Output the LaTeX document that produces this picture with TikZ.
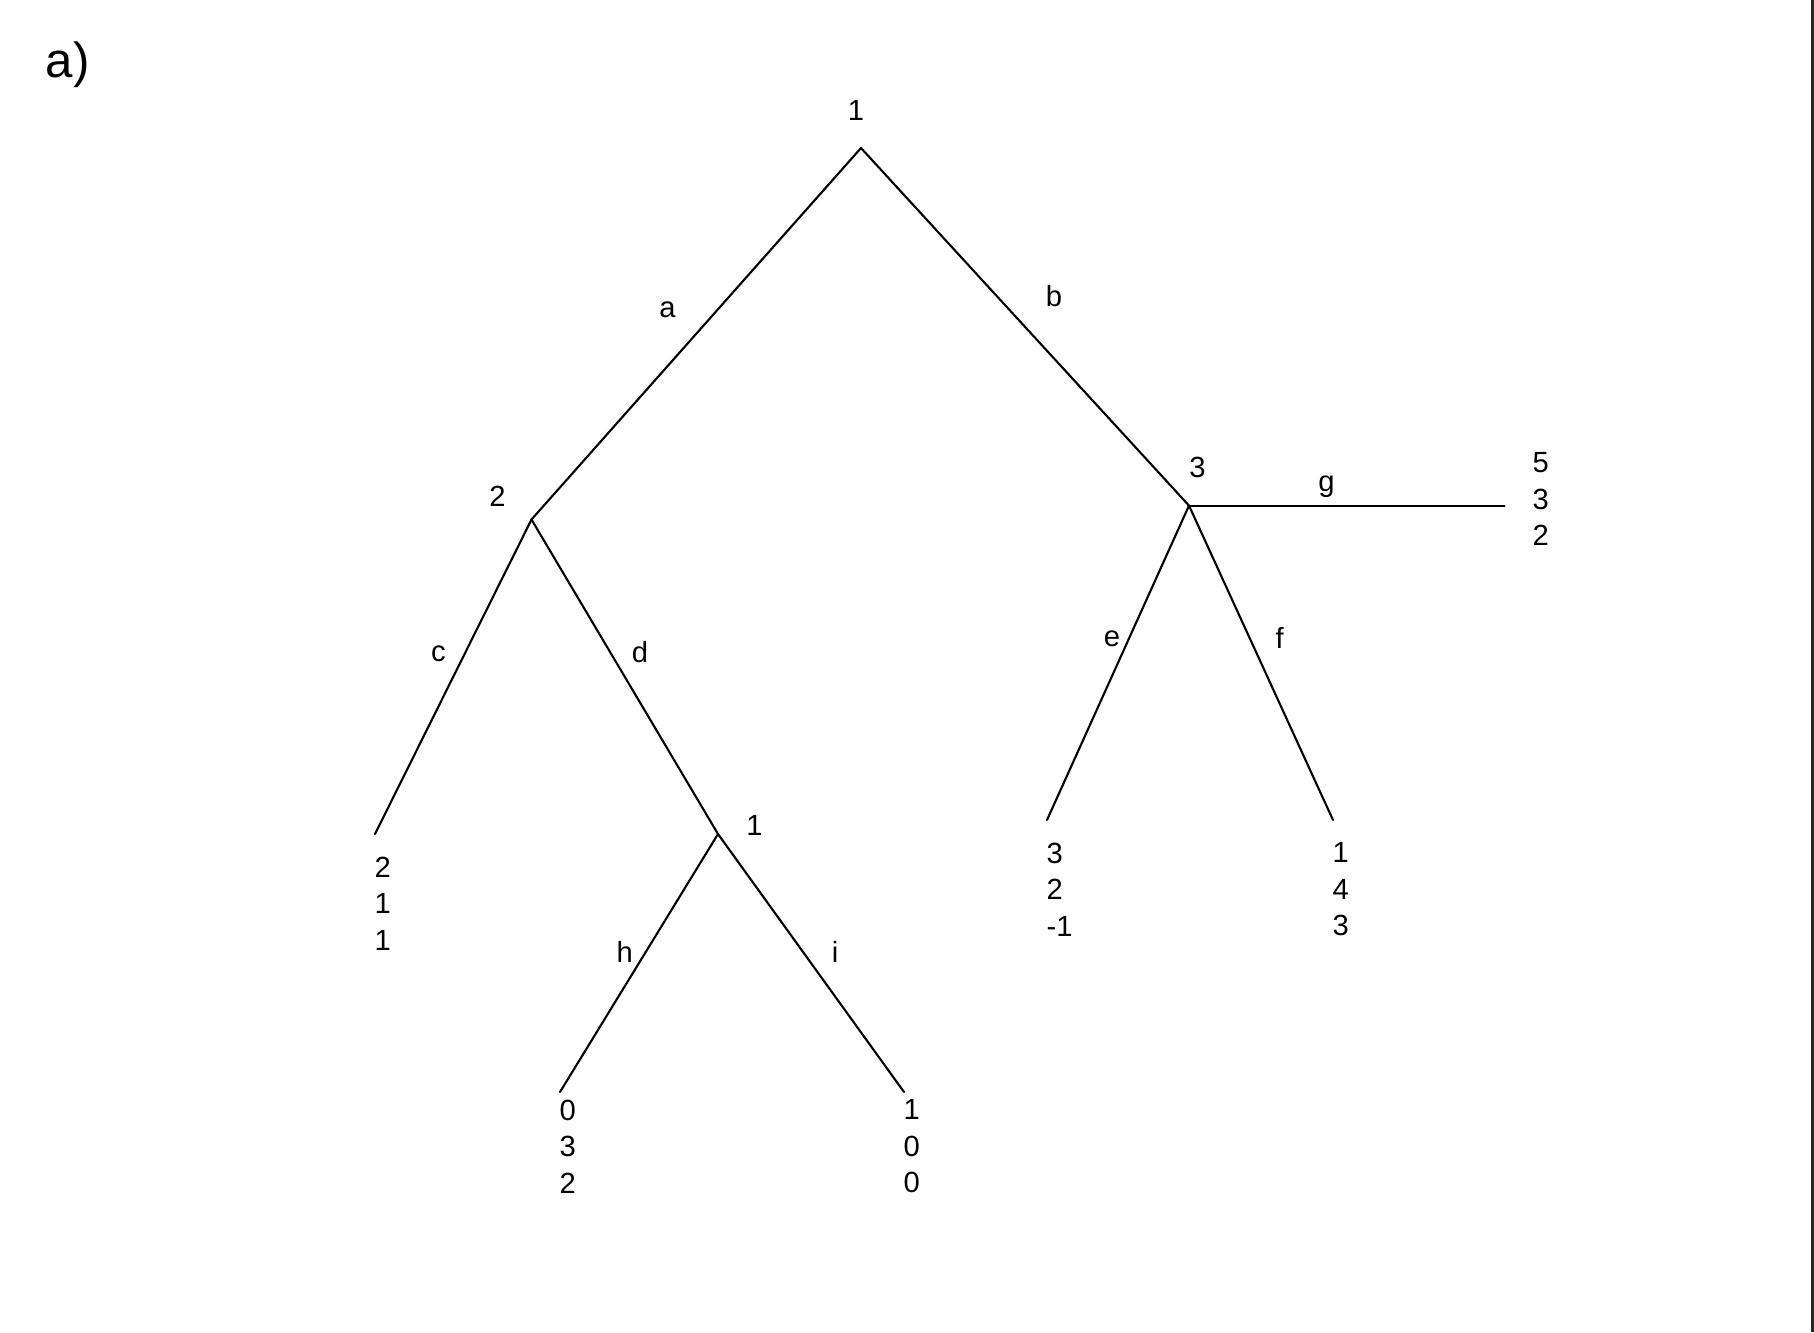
\documentclass[tikz,border=0pt]{standalone}
\usepackage{fontspec}
\setmainfont{Liberation Sans}
\begin{document}
\begin{tikzpicture}[x=0.01cm,y=-0.01cm,
  edge/.style={line width=0.6pt,line cap=round,line join=round},
  lbl/.style={inner sep=0pt,font=\fontsize{8.3}{10.4}\selectfont},
  payoff/.style={lbl,align=left,anchor=north west},
  player/.style={lbl,anchor=base}]
\useasboundingbox (0,0) rectangle (1814,1332);
\fill[white] (0,0) rectangle (1814,1332);
\fill[black!85] (1811,0) rectangle (1814,1332);
% title
\node[inner sep=0pt,anchor=base west,font=\fontsize{14}{16}\selectfont] (title) at (45,77) {a)};
% vertices
\coordinate (r) at (861,148);
\coordinate (n2) at (531.5,519.5);
\coordinate (n3) at (1189,505.6);
\coordinate (n1) at (718,834);
\coordinate (lc) at (375,834);
\coordinate (lh) at (560,1092);
\coordinate (li) at (904,1092);
\coordinate (le) at (1047,820);
\coordinate (lf) at (1333,820);
\coordinate (lg) at (1504.5,505.6);
% edges
\draw[edge] (n2) -- (r) -- (n3);
\draw[edge] (lc) -- (n2) -- (n1);
\draw[edge] (lh) -- (n1) -- (li);
\draw[edge] (le) -- (n3) -- (lf);
\draw[edge] (n3) -- (lg);
% player labels
\node[player] (p-r) at (856,120) {1};
\node[player] (p-2) at (497.5,506) {2};
\node[player] (p-3) at (1197.5,477) {3};
\node[player] (p-1) at (754.5,835) {1};
% action labels
\node[lbl] (a-a) at (667.6,310) {a};
\node[lbl] (a-b) at (1054,296) {b};
\node[lbl] (a-c) at (438.5,654) {c};
\node[lbl] (a-d) at (640,652.5) {d};
\node[lbl] (a-e) at (1112,638.7) {e};
\node[lbl] (a-f) at (1279.6,637.5) {f};
\node[lbl] (a-g) at (1326.5,487) {g};
\node[lbl] (a-h) at (624.8,952) {h};
\node[lbl] (a-i) at (835,952) {i};
% payoffs
\node[payoff] (u-c) at (374,856) {2\\1\\1};
\node[payoff] (u-h) at (559,1099) {0\\3\\2};
\node[payoff] (u-i) at (903,1099) {1\\0\\0};
\node[payoff] (u-e) at (1046,842) {3\\2\\-1};
\node[payoff] (u-f) at (1332,842) {1\\4\\3};
\node[payoff] (u-g) at (1532,452) {5\\3\\2};
\end{tikzpicture}
\end{document}
